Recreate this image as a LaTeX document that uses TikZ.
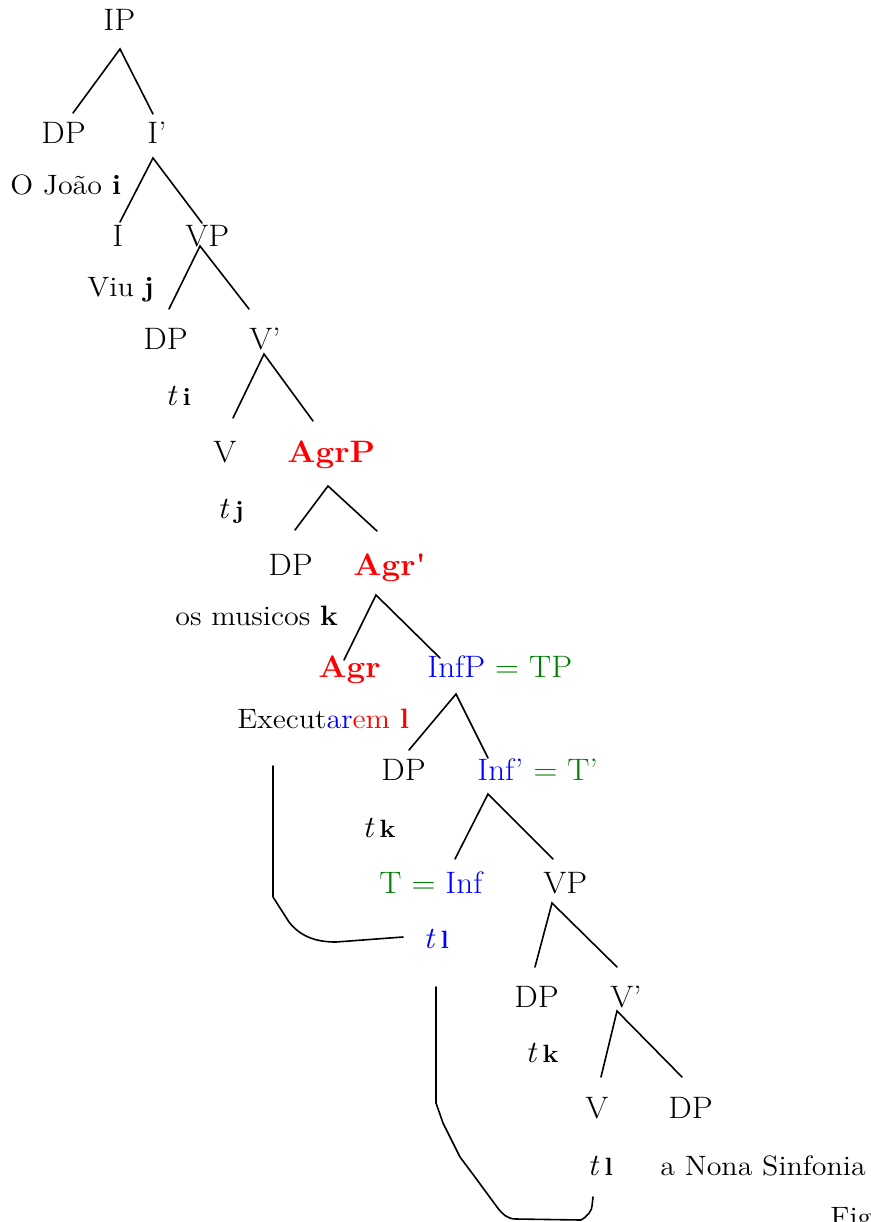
\documentclass[tikz,border=0pt]{standalone}
\usepackage{fontspec}
\setmainfont{Latin Modern Roman}[FakeStretch=1.07]
\usepackage{xcolor}
\definecolor{tred}{RGB}{255,0,0}
\definecolor{tblue}{RGB}{0,0,255}
\definecolor{tgreen}{RGB}{0,128,0}
\tikzset{
  lab/.style={font=\fontsize{15.5}{18}\selectfont, inner sep=0pt, anchor=base west},
  sm/.style={font=\fontsize{14}{16}\selectfont, inner sep=0pt, anchor=base west},
  branch/.style={line width=0.8pt, line cap=round},
  movement/.style={line width=0.8pt, line cap=round, line join=round},
}
\newcommand{\tr}[1]{\textit{t}\,{\fontsize{12.5}{15}\selectfont\textbf{#1}}}
\begin{document}
\begin{tikzpicture}[x=0.5pt,y=-0.5pt]
\useasboundingbox (0,0) rectangle (871,1222);
% nodes
\node[lab] (IP) at (103,30) {IP};
\node[lab] (DP1) at (41,143) {DP};
\node[lab] (I1) at (147,143) {I’};
\node[sm] (joao) at (10,194) {O João \textbf{i}};
\node[lab] (I) at (112,246) {I};
\node[lab] (VP1) at (185,246) {VP};
\node[sm] (viu) at (87,296) {Viu \textbf{j}};
\node[lab] (DP2) at (143,349) {DP};
\node[lab] (V1) at (249,349) {V’};
\node[lab] (ti) at (165,405) {\tr{i}};
\node[lab] (V) at (213,462) {V};
\node[lab,text=tred] (AgrP) at (287,462) {\textbf{AgrP}};
\node[lab] (tj) at (217,518) {\tr{j}};
\node[lab] (DP3) at (268,575) {DP};
\node[lab,text=tred] (Agr1) at (353,575) {\textbf{Agr\textquotesingle}};
\node[sm] (musicos) at (175,625) {os musicos \textbf{k}};
\node[lab,text=tred] (Agr) at (318,677) {\textbf{Agr}};
\node[lab] (InfP) at (427,677) {\textcolor{tblue}{InfP} \textcolor{tgreen}{= TP}};
\node[sm] (exec) at (237,728) {Execut\textcolor{tblue}{ar}\textcolor{tred}{em \textbf{l}}};
\node[lab] (DP4) at (381,780) {DP};
\node[lab] (Inf1) at (477,780) {\textcolor{tblue}{Inf’} \textcolor{tgreen}{= T’}};
\node[lab] (tk1) at (362,837) {\tr{k}};
\node[lab] (TInf) at (379,893) {\textcolor{tgreen}{T =} \textcolor{tblue}{Inf}};
\node[lab] (VP2) at (543,893) {VP};
\node[lab,text=tblue] (tl1) at (423,948) {\tr{l}};
\node[lab] (DP5) at (514,1007) {DP};
\node[lab] (V2) at (610,1007) {V’};
\node[lab] (tk2) at (525,1062) {\tr{k}};
\node[lab] (Vb) at (585,1118) {V};
\node[lab] (DP6) at (668,1118) {DP};
\node[lab] (tl2) at (587,1175) {\tr{l}};
\node[sm] (nona) at (660,1175) {a Nona Sinfonia};
\node[sm] (fig) at (830,1226) {Fig};
% branch points
\coordinate (aIP) at (120,49);  \coordinate (eDP1) at (73,113);  \coordinate (eI1) at (153,114);
\coordinate (aI1) at (153,158); \coordinate (eI) at (120,222);   \coordinate (eVP1) at (202,223);
\coordinate (aVP1) at (200,246);\coordinate (eDP2) at (169,309); \coordinate (eV1) at (249,309);
\coordinate (aV1) at (264,354); \coordinate (eV) at (233,418);   \coordinate (eAgrP) at (313,421);
\coordinate (aAgrP) at (328,486);\coordinate (eDP3) at (295,530);\coordinate (eAgr1) at (377,531);
\coordinate (aAgr1) at (376,595);\coordinate (eAgr) at (344,660);\coordinate (eInfP) at (440,658);
\coordinate (aInfP) at (456,694);\coordinate (eDP4) at (409,750);\coordinate (eInf1) at (488,758);
\coordinate (aInf1) at (488,794);\coordinate (eTInf) at (455,859);\coordinate (eVP2) at (553,859);
\coordinate (aVP2) at (552,903);\coordinate (eDP5) at (535,967);\coordinate (eV2) at (617,967);
\coordinate (aV2) at (617,1011);\coordinate (eVb) at (601,1077);\coordinate (eDP6) at (682,1077);
% branches
\draw[branch] (eDP1) -- (aIP) -- (eI1);
\draw[branch] (eI) -- (aI1) -- (eVP1);
\draw[branch] (eDP2) -- (aVP1) -- (eV1);
\draw[branch] (eV) -- (aV1) -- (eAgrP);
\draw[branch] (eDP3) -- (aAgrP) -- (eAgr1);
\draw[branch] (eAgr) -- (aAgr1) -- (eInfP);
\draw[branch] (eDP4) -- (aInfP) -- (eInf1);
\draw[branch] (eTInf) -- (aInf1) -- (eVP2);
\draw[branch] (eDP5) -- (aVP2) -- (eV2);
\draw[branch] (eVb) -- (aV2) -- (eDP6);
% movement lines
\coordinate (m1s) at (273,766);
\coordinate (m1e) at (403,937);
\draw[movement] (m1s) -- (273,897) -- (289,922) .. controls (300,936) and (315,942) .. (336,942) -- (m1e);
\coordinate (m2s) at (436,987);
\coordinate (m2e) at (593,1197);
\draw[movement] (m2s) -- (436,1103) -- (443,1123) -- (460,1157) -- (472,1173) -- (497,1207)
  .. controls (503,1215) and (508,1219) .. (516,1219) -- (581,1220) .. controls (588,1216) and (592,1210) .. (592,1206) -- (m2e);
\end{tikzpicture}
\end{document}
